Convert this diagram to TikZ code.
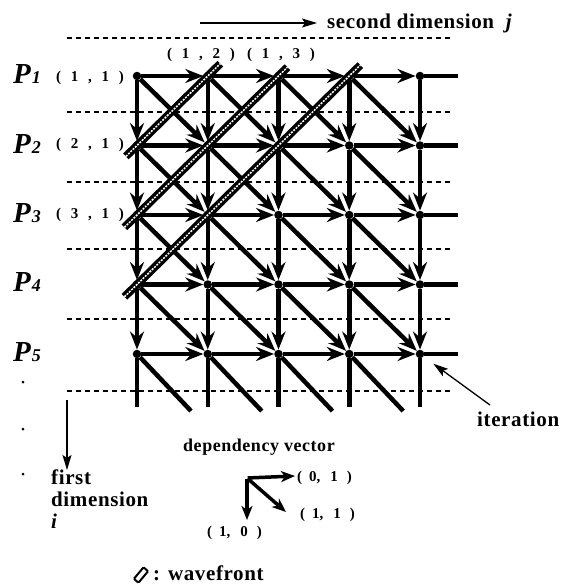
\documentclass[tikz,border=0pt]{standalone}
\usepackage{fontspec}
\setmainfont{Liberation Serif}
\newfontfamily\spacedfont[LetterSpace=3]{Liberation Serif}
\newfontfamily\widefont[LetterSpace=40]{Liberation Serif}
\usetikzlibrary{arrows.meta}

\newcommand{\proc}[1]{P\kern1pt{\fontsize{18}{18}\selectfont #1}}
\newcommand{\vpair}[2]{(\hspace{7pt}#1,\hspace{10pt}#2\hspace{9pt})}

\begin{document}
\begin{tikzpicture}[
  x=1pt, y=-1pt,
  dot/.style={circle, fill, inner sep=0pt, minimum size=8.5pt},
  smalldot/.style={circle, fill, inner sep=0pt, minimum size=3pt},
  edge/.style={line width=4.5pt, -{Stealth[length=18pt,width=14pt,inset=6pt]}},
  stub/.style={line width=4.5pt},
  guide/.style={line width=1.1pt, dash pattern=on 5pt off 4pt},
  wave/.style={line width=8pt, postaction={draw, white, line width=1.5pt, dash pattern=on 2pt off 1.2pt}},
  thinarrow/.style={line width=1.3pt, -{Stealth[length=15pt,width=9pt,inset=3pt]}},
  dep/.style={line width=3.5pt, -{Stealth[length=14pt,width=11pt,inset=4pt]}},
  plab/.style={font=\fontsize{29}{29}\selectfont\bfseries\itshape, inner sep=0pt},
  clab/.style={font=\fontsize{15}{15}\selectfont\widefont\bfseries, inner sep=0pt},
  bigtext/.style={font=\fontsize{21}{22}\selectfont\spacedfont\bfseries, inner sep=0pt},
  dlab/.style={font=\fontsize{15}{15}\selectfont\bfseries, inner sep=0pt}
]
\useasboundingbox (0,0) rectangle (564,584);

% dashed separators
\foreach \y in {38,112,182,249,319,391}
  \draw[guide] (67,\y) -- (452,\y);

% grid of iterations
\foreach \i in {1,...,5}
  \foreach \j in {1,...,5}
    \node[dot] (n\i\j) at ({137+70.75*(\j-1)},{76+69.5*(\i-1)}) {};

% dependencies (0,1), (1,0) and (1,1)
\foreach \i in {1,...,5}{
  \foreach \j in {1,...,5}{
    \pgfmathtruncatemacro{\ip}{\i+1}
    \pgfmathtruncatemacro{\jp}{\j+1}
    \ifnum\j<5 \draw[edge] (n\i\j) -- (n\i\jp); \fi
    \ifnum\i<5 \draw[edge] (n\i\j) -- (n\ip\j); \fi
    \ifnum\i<5 \ifnum\j<5 \draw[edge] (n\i\j) -- (n\ip\jp); \fi\fi
  }
}

% open ends
\foreach \i in {1,...,5}
  \draw[stub] (n\i5) -- ++(38,0);
\foreach \j in {1,...,5}
  \draw[stub] (n5\j) -- ++(0,53);
\foreach \j in {1,...,4}
  \draw[stub] (n5\j) -- ++(54,57);

% wavefronts
\draw[wave, shorten <=-20pt, shorten >=-22pt] (n21) -- (n12);
\draw[wave, shorten <=-22pt, shorten >=-17pt] (n31) -- (n13);
\draw[wave, shorten <=-22pt, shorten >=-20pt] (n41) -- (n14);

% processors
\node[plab, anchor=base west] (p1) at (13,83) {\proc{1}};
\node[plab, anchor=base west] (p2) at (13,153) {\proc{2}};
\node[plab, anchor=base west] (p3) at (13,222) {\proc{3}};
\node[plab, anchor=base west] (p4) at (13,291) {\proc{4}};
\node[plab, anchor=base west] (p5) at (13,361) {\proc{5}};

% iteration indices
\node[clab, anchor=base east] (c11) at (124,81) {( 1 , 1 )};
\node[clab, anchor=base east] (c21) at (124,148) {( 2 , 1 )};
\node[clab, anchor=base east] (c31) at (124,218) {( 3 , 1 )};
\node[clab, anchor=base west] (c12) at (167,58) {( 1 , 2 )};
\node[clab, anchor=base west] (c13) at (247,58) {( 1 , 3 )};

% second dimension
\coordinate (sdtail) at (200,23);
\node[bigtext, anchor=west] (sdim) at (327,23) {second dimension \ \textit{j}};
\draw[thinarrow, shorten >=10pt] (sdtail) -- (sdim.west);

% first dimension
\node[smalldot] (d1) at (23,382) {};
\node[smalldot] (d2) at (23,429) {};
\node[smalldot] (d3) at (23,474) {};
\coordinate (fdtail) at (67,400);
\node[bigtext, anchor=north west, align=left] (fdim) at (51,470) {first\\dimension\\\textit{i}};
\draw[thinarrow] (fdtail) -- (fdtail |- fdim.north);

% iteration pointer
\node[bigtext, anchor=base west] (iter) at (477,426) {iteration};
\coordinate (itail) at (490,405);
\draw[thinarrow, shorten >=12pt] (itail) -- (n55);

% dependency vectors
\node[font=\fontsize{18}{18}\selectfont\spacedfont\bfseries, inner sep=0pt] (dvt) at (259,447) {dependency vector};
\node[inner sep=0pt] (dv) at (247,478) {};
\node[dlab, anchor=west] (l01) at (297,478) {\vpair{0}{1}};
\node[dlab, anchor=west] (l11) at (300,515) {\vpair{1}{1}};
\node[dlab, anchor=west] (l10) at (207,533) {\vpair{1}{0}};
\coordinate (t01) at (295,476);
\coordinate (t11) at (286,512);
\coordinate (t10) at (247,520);
\draw[dep] (dv) -- (t01);
\draw[dep] (dv) -- (t11);
\draw[dep] (dv) -- (t10);

% legend
\node[draw, line width=2pt, minimum width=15pt, minimum height=6pt, inner sep=0pt,
      rounded corners=1pt, rotate=50] (wicon) at (141,575) {};
\node[bigtext, anchor=base west] (wlab) at (153,580) {: wavefront};
\end{tikzpicture}
\end{document}
